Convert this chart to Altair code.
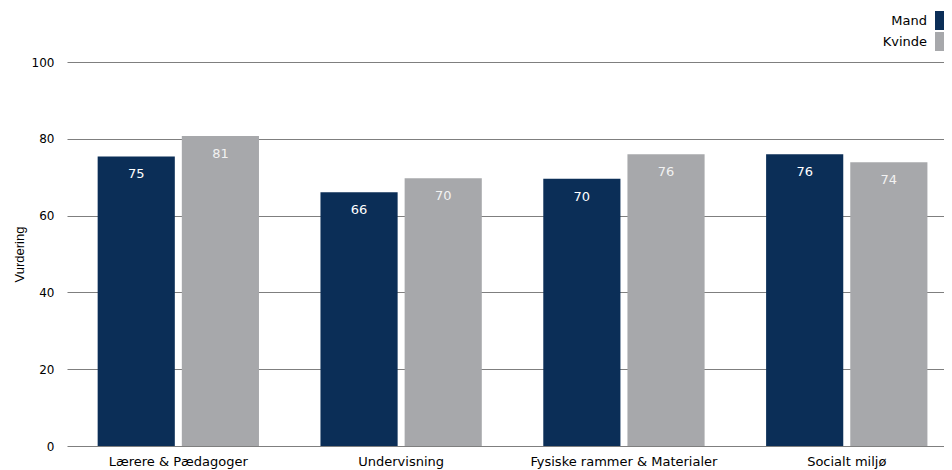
import altair as alt
import pandas as pd

categories = ["Lærere & Pædagoger", "Undervisning", "Fysiske rammer & Materialer", "Socialt miljø"]
series = ["Mand", "Kvinde"]
mand = [75.4, 66.1, 69.6, 76.0]
kvinde = [80.7, 69.7, 76.0, 73.9]
y_ticks = [0, 20, 40, 60, 80, 100]
colors = ["#0b2e57", "#a7a8ab"]
label_colors = ["#ffffff", "#f2f2f2"]

rows = []
for i, c in enumerate(categories):
    rows.append({"Kategori": c, "Køn": "Mand", "Vurdering": mand[i]})
    rows.append({"Kategori": c, "Køn": "Kvinde", "Vurdering": kvinde[i]})
df = pd.DataFrame(rows)

x = alt.X(
    "Kategori:N", sort=categories, title=None,
    scale=alt.Scale(paddingInner=0.276, paddingOuter=0.106, align=0.649),
    axis=alt.Axis(labelAngle=0, ticks=False, domain=False, labelPadding=9, labelLimit=0,
                  labelFontSize=13, labelFont="DejaVu Sans", labelColor="#000000"),
)
xo = alt.XOffset("Køn:N", sort=series, scale=alt.Scale(paddingInner=0.0832, paddingOuter=0))
y = alt.Y(
    "Vurdering:Q", title="Vurdering",
    scale=alt.Scale(domain=[0, 100]),
    axis=alt.Axis(values=y_ticks, grid=True, gridColor="#7f7f7f", gridWidth=1,
                  domain=False, ticks=False, labelPadding=13,
                  labelFontSize=12, labelFont="DejaVu Sans", labelColor="#000000",
                  titleFont="Liberation Sans", titleFontSize=13, titleFontWeight="normal",
                  titleColor="#000000", titleX=-48, titleY=192, titleBaseline="middle",
                  titleAlign="center"),
)

base = alt.Chart(df).encode(x=x, xOffset=xo, y=y)

bars = base.mark_bar().encode(
    color=alt.Color(
        "Køn:N", sort=series,
        scale=alt.Scale(domain=series, range=colors),
        legend=alt.Legend(title=None, orient="none", legendX=868, legendY=-51,
                          symbolType="square", symbolSize=361, symbolStrokeWidth=0,
                          symbolOpacity=1, labelAlign="right",
                          labelOffset=alt.ExprRef("-27"),
                          labelFontSize=13, labelFont="DejaVu Sans", labelColor="#000000",
                          rowPadding=2, padding=0),
    )
)

text = base.mark_text(dy=18, baseline="middle", fontSize=13, font="DejaVu Sans").encode(
    text=alt.Text("Vurdering:Q", format=".0f"),
    color=alt.Color("Køn:N", sort=series,
                    scale=alt.Scale(domain=series, range=label_colors), legend=None),
)

chart = (
    alt.layer(bars, text)
    .resolve_scale(color="independent")
    .properties(
        width=877, height=384,
        autosize=alt.AutoSizeParams(type="none"),
        padding={"left": 59, "top": 54, "right": 0, "bottom": 24},
        background="white",
    )
    .configure_view(stroke=None)
)

chart.save("out.html", embed_options={"renderer": "svg", "actions": False})
